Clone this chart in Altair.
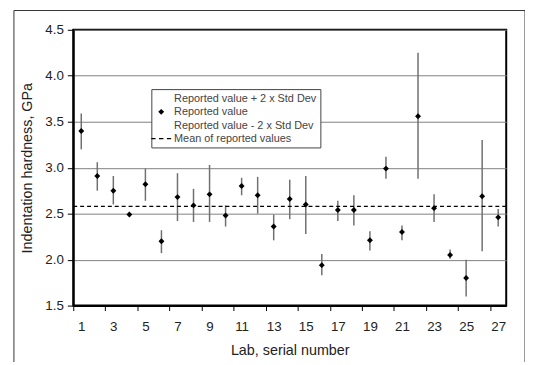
import altair as alt
import pandas as pd

labs = list(range(1, 28))
values = [3.40, 2.91, 2.75, 2.49, 2.82, 2.20, 2.68, 2.59, 2.71, 2.48, 2.80, 2.70, 2.36, 2.66,
          2.60, 1.94, 2.54, 2.54, 2.21, 2.99, 2.30, 3.56, 2.56, 2.05, 1.80, 2.69, 2.46]
upper = [3.59, 3.06, 2.91, 2.51, 2.99, 2.32, 2.94, 2.77, 3.03, 2.59, 2.89, 2.90, 2.49, 2.87,
         2.91, 2.06, 2.64, 2.70, 2.31, 3.12, 2.37, 4.25, 2.71, 2.11, 2.00, 3.30, 2.55]
lower = [3.20, 2.75, 2.60, 2.47, 2.64, 2.07, 2.42, 2.41, 2.41, 2.36, 2.70, 2.50, 2.21, 2.44,
         2.28, 1.83, 2.42, 2.37, 2.10, 2.88, 2.21, 2.88, 2.41, 2.01, 1.60, 2.09, 2.36]
mean_value = [2.58]

legend_labels = ["Reported value + 2 x Std Dev", "Reported value",
                 "Reported value - 2 x Std Dev", "Mean of reported values"]
legend_shapes = [
    "M0,0",
    "M0,-0.6L0.6,0L0,0.6L-0.6,0Z",
    "M0,0",
    "M-2,-0.12L-1.15,-0.12L-1.15,0.12L-2,0.12Z"
    "M-0.45,-0.12L0.45,-0.12L0.45,0.12L-0.45,0.12Z"
    "M1.15,-0.12L2,-0.12L2,0.12L1.15,0.12Z",
]

x_ticks = []
for k in range(0, 27, 2):
    x_ticks.append(k + 0.5)
    x_ticks.append(k + 1)
y_ticks = [1.5, 2.0, 2.5, 3.0, 3.5, 4.0, 4.5]

FONT = "Liberation Sans"

df = pd.DataFrame({"lab": labs, "value": values, "hi": upper, "lo": lower,
                   "series": ["Reported value"] * len(labs)})
mean_df = pd.DataFrame({"mean": mean_value})

x_enc = alt.X("lab:Q", title="Lab, serial number",
              scale=alt.Scale(domain=[0.5, 27.5], nice=False, zero=False),
              axis=alt.Axis(values=x_ticks, grid=False,
                            labelExpr="datum.value % 2 == 1 ? format(datum.value, 'd') : ''",
                            tickColor={"condition": {"test": "datum.value % 1 != 0", "value": "black"},
                                       "value": "transparent"},
                            tickSize=5, tickWidth=1, labelFlush=False, labelOverlap=False,
                            labelBound=False, domainColor="black", domainWidth=2,
                            labelFontSize=13.5, labelColor="#222", labelPadding=9,
                            titleFontSize=14.5, titleFontWeight="normal", titleColor="#222",
                            titleY=45, titleBaseline="middle",
                            labelFont=FONT, titleFont=FONT))

y_scale = alt.Scale(domain=[1.5, 4.5], nice=False, zero=False)
y_axis = alt.Axis(values=y_ticks, format=".1f", grid=True, gridColor="#808080", gridWidth=1,
                  tickColor="black", tickSize=6, tickWidth=1, domainColor="black", domainWidth=2,
                  labelFontSize=13.5, labelColor="#222", labelPadding=4,
                  titleFontSize=14.5, titleFontWeight="normal", titleColor="#222",
                  titleX=-46, titleBaseline="middle",
                  labelFont=FONT, titleFont=FONT)
Y_TITLE = "Indentation hardness, GPa"

frame = alt.Chart(pd.DataFrame({"k": [0]})).mark_rect(
    fillOpacity=0, stroke="#333", strokeWidth=1
).encode(x=alt.value(-60), x2=alt.value(457), y=alt.value(-19.5), y2=alt.value(400))

bars = alt.Chart(df).mark_rule(color="#707070", strokeWidth=1.5).encode(
    x=x_enc,
    y=alt.Y("lo:Q", title=Y_TITLE, scale=y_scale, axis=y_axis),
    y2="hi:Q",
)

mean_line = alt.Chart(mean_df).mark_rule(color="black", strokeWidth=1.3, strokeDash=[4, 3]).encode(
    y=alt.Y("mean:Q", title=Y_TITLE, scale=y_scale, axis=y_axis),
)

points = alt.Chart(df).mark_point(filled=True, color="black", size=100, opacity=1).encode(
    x=x_enc,
    y=alt.Y("value:Q", title=Y_TITLE, scale=y_scale, axis=y_axis),
    shape=alt.Shape("series:N",
                    scale=alt.Scale(domain=legend_labels, range=legend_shapes),
                    legend=alt.Legend(orient="none", legendX=79, legendY=60, title=None,
                                      fillColor="white", strokeColor="#444", padding=4,
                                      symbolSize=100, rowPadding=2, labelFontSize=11,
                                      labelFont=FONT, labelColor="#444", labelOffset=7,
                                      symbolFillColor="black", labelLimit=0)),
)

chart = alt.layer(frame, bars, mean_line, points).properties(
    width=438, height=279,
    autosize=alt.AutoSizeParams(type="none"),
    padding={"left": 66, "top": 20, "right": 19, "bottom": 55},
    background="white",
).configure_view(stroke="black", strokeWidth=2)

chart.save("out.html", embed_options={"renderer": "svg", "actions": False})
